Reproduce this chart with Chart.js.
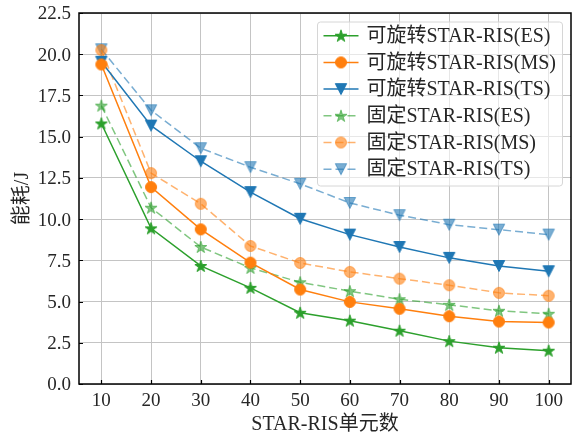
<!DOCTYPE html>
<html>
<head>
<meta charset="utf-8">
<script src="https://cdn.jsdelivr.net/npm/chart.js@4.4.1/dist/chart.umd.min.js"></script>
<style>
html, body { margin: 0; padding: 0; background: #fff; }
#box { width: 573px; height: 437px; }
</style>
</head>
<body>
<div id="box"><canvas id="chart" width="573" height="437"></canvas></div>
<script>
// data
var units = [10, 20, 30, 40, 50, 60, 70, 80, 90, 100];
var yTicks = [0, 2.5, 5, 7.5, 10, 12.5, 15, 17.5, 20, 22.5];
var rotES = [15.8, 9.44, 7.16, 5.83, 4.32, 3.84, 3.23, 2.6, 2.2, 2.02];
var rotMS = [19.38, 11.94, 9.38, 7.36, 5.73, 4.98, 4.56, 4.11, 3.79, 3.73];
var rotTS = [19.54, 15.67, 13.51, 11.64, 10.02, 9.06, 8.31, 7.65, 7.16, 6.84];
var fixES = [16.88, 10.69, 8.31, 7.04, 6.17, 5.63, 5.14, 4.8, 4.44, 4.26];
var fixMS = [20.25, 12.79, 10.93, 8.37, 7.34, 6.8, 6.39, 5.99, 5.53, 5.35];
var fixTS = [20.3, 16.6, 14.3, 13.15, 12.14, 10.98, 10.24, 9.66, 9.36, 9.06];
var labels = ['可旋转STAR-RIS(ES)', '可旋转STAR-RIS(MS)', '可旋转STAR-RIS(TS)',
              '固定STAR-RIS(ES)', '固定STAR-RIS(MS)', '固定STAR-RIS(TS)'];

var colours = { green: '#2ca02c', orange: '#ff7f0e', blue: '#1f77b4' };
var fontFamily = '"Liberation Serif", "Noto Sans CJK SC", serif';

function rgba(hex, a) {
    var n = parseInt(hex.slice(1), 16);
    return 'rgba(' + (n >> 16) + ',' + ((n >> 8) & 255) + ',' + (n & 255) + ',' + a + ')';
}

// matplotlib-like markers as small canvases
function makeMarker(shape, colour, alpha) {
    var c = document.createElement('canvas');
    c.width = 20; c.height = 20;
    var g = c.getContext('2d');
    g.globalAlpha = alpha;
    g.fillStyle = colour;
    g.strokeStyle = colour;
    g.lineWidth = 1;
    g.beginPath();
    if (shape === 'circle') {
        g.arc(10, 10, 5.5, 0, Math.PI * 2);
    } else if (shape === 'tri') {
        g.moveTo(4.3, 4.5); g.lineTo(15.7, 4.5); g.lineTo(10, 15.5);
    } else {
        var R = 6.3, r = R * 0.382;
        for (var i = 0; i < 10; i++) {
            var a = -Math.PI / 2 + i * Math.PI / 5;
            var rr = (i % 2 === 0) ? R : r;
            g.lineTo(10 + rr * Math.cos(a), 10.5 + rr * Math.sin(a));
        }
    }
    g.closePath();
    g.fill();
    g.stroke();
    return c;
}

function series(label, data, colour, shape, fixed) {
    var a = fixed ? 0.6 : 1;
    return {
        label: label,
        data: data,
        borderColor: rgba(colour, a),
        backgroundColor: rgba(colour, a),
        borderWidth: 1.5,
        borderDash: fixed ? [8, 4] : [],
        pointStyle: makeMarker(shape, colour, a),
        pointRadius: 6,
        fill: false,
        tension: 0
    };
}

// frame with inward ticks, like the matplotlib axes
var framePlugin = {
    id: 'frame',
    afterDatasetsDraw: function (chart) {
        var ctx = chart.ctx, ca = chart.chartArea;
        var xs = chart.scales.x, ys = chart.scales.y;
        ctx.save();
        ctx.strokeStyle = '#000';
        ctx.lineWidth = 1.2;
        ctx.beginPath();
        xs.ticks.forEach(function (t) {
            var px = Math.round(xs.getPixelForValue(t.value)) + 0.5;
            ctx.moveTo(px, ca.bottom); ctx.lineTo(px, ca.bottom - 4);
        });
        ys.ticks.forEach(function (t) {
            var py = Math.round(ys.getPixelForValue(t.value)) + 0.5;
            ctx.moveTo(ca.left, py); ctx.lineTo(ca.left + 4, py);
        });
        ctx.stroke();
        ctx.lineWidth = 1.5;
        ctx.strokeRect(ca.left, ca.top, ca.right - ca.left, ca.bottom - ca.top);
        ctx.restore();
    }
};

// legend box in the upper right of the plot
var legendPlugin = {
    id: 'innerLegend',
    afterDraw: function (chart) {
        var ctx = chart.ctx, ca = chart.chartArea;
        var w = 245, h = 164;
        var x0 = ca.right - 8.5 - w, y0 = ca.top + 9;
        ctx.save();
        ctx.beginPath();
        ctx.roundRect(x0, y0, w, h, 3);
        ctx.fillStyle = 'rgba(255,255,255,0.6)';
        ctx.fill();
        ctx.strokeStyle = '#d6d6d6';
        ctx.lineWidth = 1;
        ctx.stroke();
        ctx.font = '20px ' + fontFamily;
        ctx.textBaseline = 'middle';
        ctx.fillStyle = '#262626';
        chart.data.datasets.forEach(function (ds, i) {
            var cy = y0 + 13.7 + i * 26.7;
            ctx.strokeStyle = ds.borderColor;
            ctx.lineWidth = ds.borderWidth;
            ctx.setLineDash(ds.borderDash);
            ctx.beginPath();
            ctx.moveTo(x0 + 6, cy); ctx.lineTo(x0 + 41, cy);
            ctx.stroke();
            ctx.setLineDash([]);
            var m = ds.pointStyle;
            ctx.drawImage(m, x0 + 23.5 - m.width / 2, cy - m.height / 2);
            ctx.fillText(ds.label, x0 + 49, cy + 1);
        });
        ctx.restore();
    }
};

Chart.defaults.font.family = fontFamily;
Chart.defaults.font.size = 19;
Chart.defaults.color = '#262626';

var ctx = document.getElementById('chart').getContext('2d');
var chart = new Chart(ctx, {
    type: 'line',
    data: {
        datasets: [
            series(labels[0], rotES, colours.green, 'star', false),
            series(labels[1], rotMS, colours.orange, 'circle', false),
            series(labels[2], rotTS, colours.blue, 'tri', false),
            series(labels[3], fixES, colours.green, 'star', true),
            series(labels[4], fixMS, colours.orange, 'circle', true),
            series(labels[5], fixTS, colours.blue, 'tri', true)
        ].map(function (ds) {
            ds.data = ds.data.map(function (v, i) { return { x: units[i], y: v }; });
            return ds;
        })
    },
    options: {
        responsive: false,
        animation: false,
        layout: { autoPadding: false, padding: { top: 13, right: 2, left: 0, bottom: 0 } },
        plugins: { legend: { display: false }, tooltip: { enabled: false } },
        scales: {
            x: {
                type: 'linear',
                min: 5.5,
                max: 104.5,
                afterBuildTicks: function (s) { s.ticks = units.map(function (v) { return { value: v }; }); },
                afterFit: function (s) { s.height = 53; s.paddingLeft = 0; s.paddingRight = 0; },
                grid: { color: '#c4c4c4', lineWidth: 1, drawTicks: false },
                border: { display: false },
                ticks: { padding: 6, maxRotation: 0, autoSkip: false },
                title: { display: true, text: 'STAR-RIS单元数', font: { size: 20 }, padding: { top: 0, bottom: 0 } }
            },
            y: {
                min: 0,
                max: 22.5,
                afterBuildTicks: function (s) { s.ticks = yTicks.map(function (v) { return { value: v }; }); },
                afterFit: function (s) { s.width = 79; s.paddingTop = 0; s.paddingBottom = 0; },
                grid: { color: '#c4c4c4', lineWidth: 1, drawTicks: false },
                border: { display: false },
                ticks: { padding: 8, labelOffset: 1.5, autoSkip: false, callback: function (v) { return v.toFixed(1); } },
                title: { display: true, text: '能耗/J', font: { size: 20 }, padding: { top: 11, bottom: 0 } }
            }
        }
    },
    plugins: [framePlugin, legendPlugin]
});
</script>
</body>
</html>
